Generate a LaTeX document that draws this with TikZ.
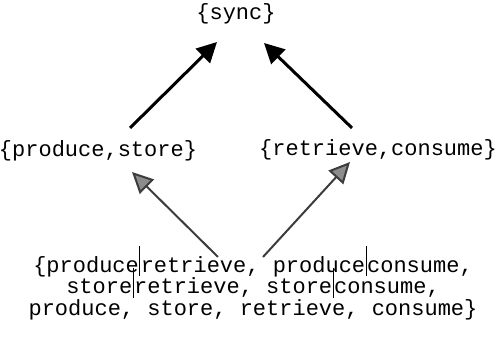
\documentclass[tikz,border=0pt]{standalone}
\usepackage{fontspec}
\setmonofont{Liberation Mono}
\usepackage{tikz}
\usetikzlibrary{arrows.meta,calc}
\definecolor{tipgray}{HTML}{8C8C8C}
\definecolor{linegray}{HTML}{3C3C3C}
\newcommand{\pbar}{\hspace{0.3pt}\smash{\rule[-0.35ex]{0.35pt}{2.6ex}}\hspace{0.3pt}}

\begin{document}
\begin{tikzpicture}[
  x=1pt, y=1pt,
  set/.style={font=\ttfamily\fontsize{11}{10.8}\selectfont, align=center, inner sep=1pt},
  blk/.style={-{Triangle[length=10pt,width=10pt]}, line width=1.5pt, black},
  gry/.style={-{Triangle[length=10.5pt,width=10pt,fill=tipgray]}, line width=1pt, linegray}
]
\useasboundingbox (0,0) rectangle (252,170);

\node[set] (sync) at (118,163) {\{sync\}};
\node[set] (ps) at (49,94.5) {\{produce,store\}};
\node[set] (rc) at (189,95) {\{retrieve,consume\}};
\node[set] (all) at (126.5,26) {\{produce\pbar retrieve, produce\pbar consume,\\
  store\pbar retrieve, store\pbar consume,\\
  produce, store, retrieve, consume\}};

\draw[blk] ($(ps)+(16,11.5)$) -- ($(sync)+(-9.5,-14)$);
\draw[blk] ($(rc)+(-13,11)$) -- ($(sync)+(14,-14.5)$);
\draw[gry] ($(all)+(-17.5,15.5)$) -- ($(ps)+(17,-10.5)$);
\draw[gry] ($(all)+(5,15.5)$) -- ($(rc)+(-14,-6)$);
\end{tikzpicture}
\end{document}
